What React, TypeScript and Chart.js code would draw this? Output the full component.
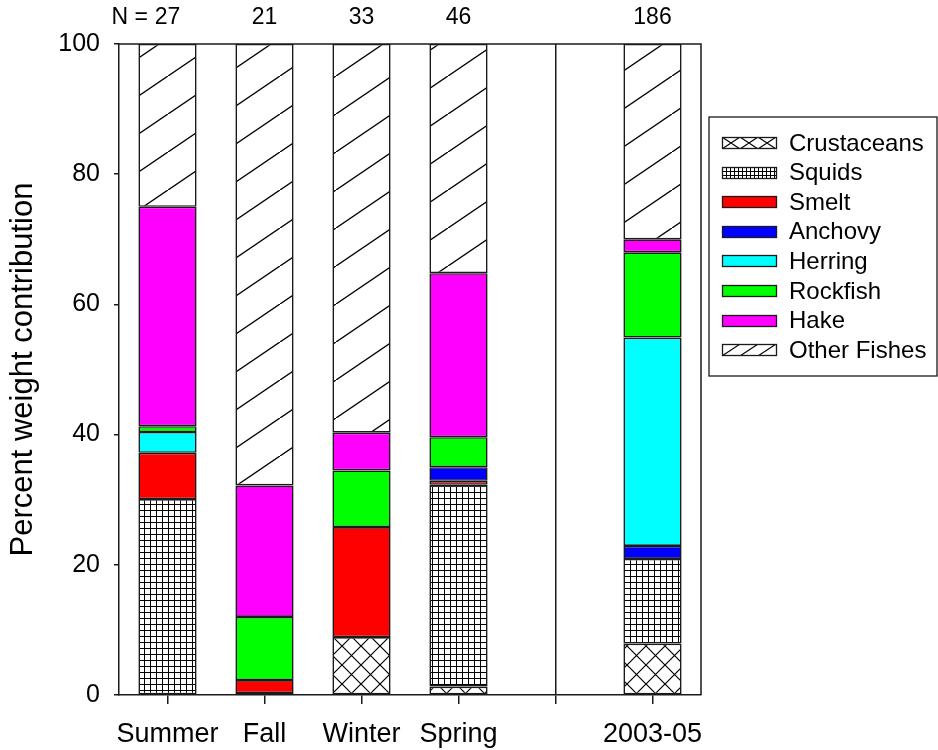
import { useEffect, useRef } from 'react';
import { Chart, registerables } from 'chart.js';
Chart.register(...registerables);

const categories = ['Summer', 'Fall', 'Winter', 'Spring', '', '2003-05'];
const sampleSizes = ['27', '21', '33', '46', '', '186'];
const crustaceans = [null, null, 8.9, 1.3, null, 7.9];
const squids = [30.1, 0.3, null, 31.0, null, 13.0];
const smelt = [7.1, 2.0, 16.9, 0.6, null, null];
const anchovy = [null, null, null, 2.1, null, 2.0];
const herring = [3.2, null, null, null, null, 32.0];
const rockfish = [0.9, 9.7, 8.7, 4.6, null, 13.1];
const hake = [33.7, 20.2, 5.8, 25.2, null, 2.0];
const otherFishes = [25.0, 67.8, 59.7, 35.2, null, 30.0];
const yTicks = [0, 20, 40, 60, 80, 100];

const FONT = '"Liberation Sans", Arial, sans-serif';
const LINE = '#1a1a1a';

function makePattern(ctx: CanvasRenderingContext2D, w: number, h: number, lw: number, draw: (g: CanvasRenderingContext2D, w: number, h: number) => void) {
  const c = document.createElement('canvas');
  c.width = w;
  c.height = h;
  const g = c.getContext('2d')!;
  g.fillStyle = '#fff';
  g.fillRect(0, 0, w, h);
  g.strokeStyle = '#000';
  g.lineWidth = lw;
  draw(g, w, h);
  return ctx.createPattern(c, 'repeat')!;
}

const gridDraw = (g: CanvasRenderingContext2D, w: number, h: number) => {
  g.beginPath();
  g.moveTo(0.5, 0); g.lineTo(0.5, h);
  g.moveTo(0, 0.5); g.lineTo(w, 0.5);
  g.stroke();
};
const crossDraw = (g: CanvasRenderingContext2D, w: number, h: number) => {
  g.beginPath();
  g.moveTo(-w, -h); g.lineTo(2 * w, 2 * h);
  g.moveTo(-w, 2 * h); g.lineTo(2 * w, -h);
  g.stroke();
};
const diagDraw = (g: CanvasRenderingContext2D, w: number, h: number) => {
  g.beginPath();
  g.moveTo(-w, 2 * h); g.lineTo(2 * w, -h);
  g.stroke();
};

export default function App() {
  const ref = useRef<HTMLCanvasElement>(null);
  useEffect(() => {
    const canvas = ref.current!;
    const ctx = canvas.getContext('2d')!;
    const pCrust = makePattern(ctx, 19, 19, 1.2, crossDraw);
    const pSquid = makePattern(ctx, 6, 6, 1, gridDraw);
    const pOther = makePattern(ctx, 56, 38, 1.4, diagDraw);
    const lCrust = makePattern(ctx, 18, 12, 1.1, crossDraw);
    const lSquid = makePattern(ctx, 4, 4, 1, gridDraw);
    const lOther = makePattern(ctx, 18, 12, 1.1, diagDraw);

    const series = [
      { label: 'Crustaceans', data: crustaceans, bg: pCrust, leg: lCrust },
      { label: 'Squids', data: squids, bg: pSquid, leg: lSquid },
      { label: 'Smelt', data: smelt, bg: '#FF0000', leg: '#FF0000' },
      { label: 'Anchovy', data: anchovy, bg: '#0000FF', leg: '#0000FF' },
      { label: 'Herring', data: herring, bg: '#00FFFF', leg: '#00FFFF' },
      { label: 'Rockfish', data: rockfish, bg: '#00FF00', leg: '#00FF00' },
      { label: 'Hake', data: hake, bg: '#FF00FF', leg: '#FF00FF' },
      { label: 'Other Fishes', data: otherFishes, bg: pOther, leg: lOther },
    ];

    const overlay = {
      id: 'overlay',
      afterDraw(chart: any) {
        const c = chart.ctx as CanvasRenderingContext2D;
        const a = chart.chartArea;
        c.save();
        c.strokeStyle = LINE;
        c.lineWidth = 1.5;
        c.beginPath();
        c.moveTo(a.left, a.top);
        c.lineTo(a.right, a.top);
        c.lineTo(a.right, a.bottom);
        c.stroke();
        const xs = chart.scales.x;
        c.fillStyle = '#000';
        c.font = `23px ${FONT}`;
        c.textBaseline = 'middle';
        c.textAlign = 'right';
        c.fillText('N =', 148, 18);
        c.textAlign = 'center';
        sampleSizes.forEach((n, i) => {
          if (n) c.fillText(n, xs.getPixelForValue(i), 18);
        });
        const bx = 709, by = 117, bw = 228, bh = 259;
        c.lineWidth = 1.3;
        c.strokeRect(bx, by, bw, bh);
        c.font = `24px ${FONT}`;
        c.textAlign = 'left';
        series.forEach((s, i) => {
          const cy = 143 + i * 29.6;
          const sx = 722, sy = Math.round(cy - 6), sw = 55, sh = 12;
          c.save();
          c.translate(sx, sy);
          c.fillStyle = s.leg as any;
          c.fillRect(0, 0, sw, sh);
          c.strokeStyle = LINE;
          c.lineWidth = 1.3;
          c.strokeRect(0.5, 0.5, sw - 1, sh - 1);
          c.restore();
          c.fillStyle = '#000';
          c.fillText(s.label, 789, cy + 1);
        });
        c.restore();
      },
    };

    const chart = new Chart(canvas, {
      type: 'bar',
      data: {
        labels: categories,
        datasets: series.map((s) => ({
          label: s.label,
          data: s.data as any,
          backgroundColor: s.bg as any,
          borderColor: LINE,
          borderWidth: 1.6,
          borderSkipped: false,
          categoryPercentage: 0.6,
          barPercentage: 1,
        })),
      },
      options: {
        animation: false,
        responsive: false,
        maintainAspectRatio: false,
        layout: { padding: { left: 0, top: 44, right: 237, bottom: 0 } },
        plugins: { legend: { display: false }, tooltip: { enabled: false } },
        scales: {
          x: {
            stacked: true,
            offset: true,
            afterFit: (s: any) => { s.height = 55; },
            grid: {
              offset: false,
              drawOnChartArea: true,
              color: (ctx: any) => (ctx.index === 4 ? LINE : 'rgba(0,0,0,0)'),
              tickColor: LINE,
              tickLength: 9,
              lineWidth: 1.5,
            },
            border: { color: LINE, width: 1.5 },
            ticks: { color: '#000', font: { family: FONT, size: 27 }, padding: 14, maxRotation: 0, autoSkip: false },
          },
          y: {
            stacked: true,
            min: 0,
            max: 100,
            afterFit: (s: any) => { s.width = 119; },
            afterBuildTicks: (s: any) => { s.ticks = yTicks.map((v) => ({ value: v })); },
            grid: { drawOnChartArea: false, tickLength: 5, tickColor: LINE, lineWidth: 1.5 },
            border: { color: LINE, width: 1.5 },
            ticks: { color: '#000', font: { family: FONT, size: 25 }, padding: 14 },
            title: {
              display: true,
              text: 'Percent weight contribution',
              color: '#000',
              font: { family: FONT, size: 31 },
              padding: { top: 5, bottom: 0 },
            },
          },
        },
      },
      plugins: [overlay],
    });
    return () => chart.destroy();
  }, []);

  return (
    <div style={{ position: 'absolute', left: 0, top: 0, width: 938, height: 750, background: '#fff' }}>
      <canvas ref={ref} width={938} height={750} style={{ width: 938, height: 750, display: 'block' }} />
    </div>
  );
}
